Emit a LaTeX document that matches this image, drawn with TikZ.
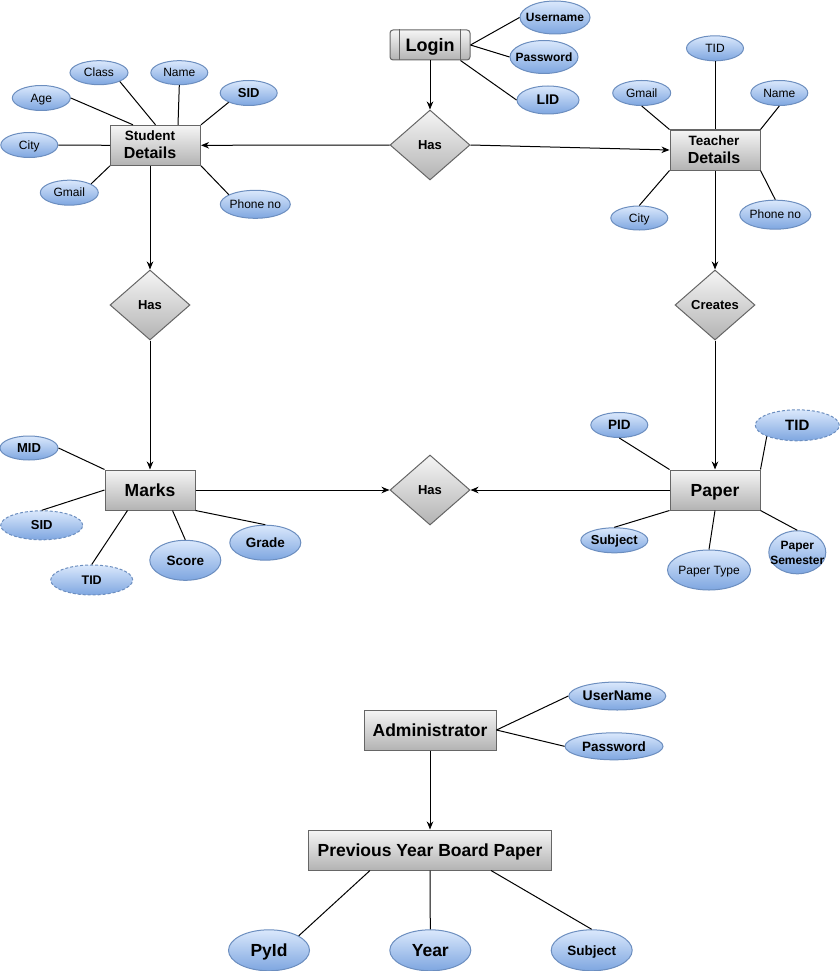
\documentclass[tikz,border=0pt]{standalone}
\usepackage{fontspec}
\setmainfont{Liberation Sans}
\usetikzlibrary{shapes.geometric,arrows.meta,shadings}

\definecolor{entline}{HTML}{666666}
\definecolor{enttop}{HTML}{F5F5F5}
\definecolor{entbot}{HTML}{B3B3B3}
\definecolor{attline}{HTML}{6C8EBF}
\definecolor{atttop}{HTML}{DAE8FC}
\definecolor{attbot}{HTML}{7EA6E0}

% zero-width label with a fixed line box, so the ellipse keeps its given size
\newcommand\zw[1]{\makebox[0pt]{\rule[-0.1em]{0pt}{0.9em}\smash{#1}}}

\begin{document}
\begin{tikzpicture}[x=1pt,y=-1pt,
  every node/.style={inner sep=0pt},
  txt/.style={font=\fontsize{#1}{#1}\selectfont},
  btxt/.style={font=\bfseries\fontsize{#1}{#1}\selectfont},
  ent/.style={rectangle, draw=entline, line width=1pt, top color=enttop, bottom color=entbot,
              minimum width=90pt, minimum height=40pt},
  rel/.style={diamond, draw=entline, line width=1pt, top color=enttop, bottom color=entbot,
              minimum width=80pt, minimum height=70pt, btxt=13},
  att/.style={ellipse, draw=attline, line width=1pt, top color=atttop, bottom color=attbot},
  attr/.style 2 args={att, minimum width=#1pt, minimum height=#2pt},
  weak/.style={dash pattern=on 3pt off 2pt},
  link/.style={draw=black, line width=1pt},
  arr/.style={link, -{Stealth[length=8pt,width=6.5pt,inset=2.5pt]}}
]
\useasboundingbox (0,0) rectangle (839,971);

% ---------- Login ----------
\node[ent, rounded corners=3pt, minimum width=80pt, minimum height=30pt, btxt=18] (lg) at (430,45) {\zw{Login}};
\draw[entline, line width=1pt] ([xshift=10pt]lg.north west) -- ([xshift=10pt]lg.south west);
\draw[entline, line width=1pt] ([xshift=-10pt]lg.north east) -- ([xshift=-10pt]lg.south east);
\node[attr={70}{33}, btxt=12] (lun) at (555,17.5) {\zw{Username}};
\node[attr={68}{33}, btxt=12] (lpw) at (544,57) {\zw{Password}};
\node[attr={62}{28}, btxt=14] (lid) at (548,100) {\zw{LID}};
\node[rel] (ht) at (430,145) {\zw{Has}};

% ---------- Student Details ----------
\node[ent] (sd) at (155.5,145.3) {};
\node[btxt=13.5, anchor=base] (sdta) at (150,140.7) {Student};
\node[btxt=16, anchor=base] (sdtb) at (150,158) {Details};
\node[attr={58}{24}, txt=12] (scls) at (99,72.7) {\zw{Class}};
\node[attr={57}{24}, txt=12] (snm) at (179.3,72.7) {\zw{Name}};
\node[attr={57}{25}, btxt=13] (ssid) at (248.7,93) {\zw{SID}};
\node[attr={58}{25}, txt=12] (sage) at (41.3,98) {\zw{Age}};
\node[attr={57}{25}, txt=12] (scity) at (29.3,145) {\zw{City}};
\node[attr={58}{25}, txt=12] (sgm) at (69.3,192.7) {\zw{Gmail}};
\node[attr={70}{28}, txt=12] (sph) at (255.3,204.3) {\zw{Phone no}};
\node[rel] (hs) at (150,305) {\zw{Has}};

% ---------- Teacher Details ----------
\node[ent] (td) at (715,150) {};
\node[btxt=13.5, anchor=base] (tdta) at (714,145.7) {Teacher};
\node[btxt=16, anchor=base] (tdtb) at (714,163.3) {Details};
\node[attr={57}{25}, txt=12] (tid) at (715,48.3) {\zw{TID}};
\node[attr={58}{25}, txt=12] (tgm) at (641.7,93) {\zw{Gmail}};
\node[attr={57}{25}, txt=12] (tnm) at (779.3,93) {\zw{Name}};
\node[attr={57}{24}, txt=12] (tcity) at (639.3,218) {\zw{City}};
\node[attr={71}{29}, txt=12] (tph) at (775.3,214.7) {\zw{Phone no}};
\node[rel] (cr) at (715,305) {\zw{Creates}};

% ---------- Marks ----------
\node[ent, btxt=17.5] (mk) at (150,490) {\zw{Marks}};
\node[attr={58}{24}, btxt=13] (mid) at (29,448) {\zw{MID}};
\node[attr={82}{29}, weak, btxt=13] (msid) at (41.7,525.3) {\zw{SID}};
\node[attr={82}{30}, weak, btxt=12.5] (mtid) at (91.7,580) {\zw{TID}};
\node[attr={71}{40}, btxt=13.5] (msc) at (185.3,560.3) {\zw{Score}};
\node[attr={71}{35}, btxt=13.5] (mgr) at (265.3,542.7) {\zw{Grade}};

\node[rel] (hm) at (430,490) {\zw{Has}};

% ---------- Paper ----------
\node[ent, btxt=17.5] (pp) at (715,490) {\zw{Paper}};
\node[attr={57}{25}, btxt=13.5] (pid) at (619.3,425) {\zw{PID}};
\node[attr={84}{31}, weak, btxt=15] (ptid) at (797.3,425.3) {\zw{TID}};
\node[attr={67}{25}, btxt=13] (psub) at (614.3,540.3) {\zw{Subject}};
\node[attr={83}{40}, txt=12] (ptype) at (709,570) {\zw{Paper Type}};
\node[attr={57}{43}, font=\bfseries\fontsize{12}{15}\selectfont] (psem) at (797.3,552.3)
  {\zw{\begin{tabular}{@{}c@{}}Paper\\Semester\end{tabular}}};

% ---------- Administrator ----------
\node[ent, minimum width=132pt, btxt=17.5] (ad) at (430,730) {\zw{Administrator}};
\node[attr={97}{28}, btxt=14] (aun) at (617.3,696) {\zw{UserName}};
\node[attr={98}{27}, btxt=13.5] (apw) at (614,746.3) {\zw{Password}};

\node[ent, minimum width=243pt, btxt=17.5] (py) at (430,850) {\zw{Previous Year Board Paper}};
\node[attr={81}{41}, btxt=17.5] (bpy) at (269,950.3) {\zw{PyId}};
\node[attr={81}{41}, btxt=17.5] (byr) at (430.3,950.3) {\zw{Year}};
\node[attr={81}{41}, btxt=13.5] (bsub) at (591.7,950.3) {\zw{Subject}};

% ---------- connectors ----------
\draw[link] (lun.west) -- (lg.east);
\draw[link] (lpw.west) -- (lg.east);
\draw[link] (lid.west) -- ([xshift=-10pt]lg.south east);
\draw[arr] (lg.south) -- (ht.north);
\draw[arr] (ht.west) -- (sd.east);
\draw[arr] (ht.east) -- (td.west);

\draw[link] (scls.-23) -- (sd.north);
\draw[link] (snm.south) -- ([xshift=22.5pt]sd.north);
\draw[link] (ssid.-155) -- (sd.north east);
\draw[link] (sage.east) -- ([xshift=-22.5pt]sd.north);
\draw[link] (scity.east) -- (sd.west);
\draw[link] (sgm.22) -- (sd.south west);
\draw[link] (sph.160) -- (sd.south east);
\draw[arr] ([xshift=-5.5pt]sd.south) -- (hs.north);
\draw[arr] (hs.south) -- (mk.north);

\draw[link] (tid.south) -- (td.north);
\draw[link] (tgm.south) -- (td.north west);
\draw[link] (tnm.south) -- (td.north east);
\draw[link] (tcity.north) -- (td.south west);
\draw[link] (tph.north) -- (td.south east);
\draw[arr] (td.south) -- (cr.north);
\draw[arr] (cr.south) -- (pp.north);

\draw[link] (mid.east) -- (mk.north west);
\draw[link] (msid.north) -- (mk.west);
\draw[link] (mtid.north) -- ([xshift=-22.5pt]mk.south);
\draw[link] (msc.north) -- ([xshift=22.5pt]mk.south);
\draw[link] (mgr.north) -- (mk.south east);
\draw[arr] (mk.east) -- (hm.west);
\draw[arr] (pp.west) -- (hm.east);

\draw[link] (pid.south) -- (pp.north west);
\draw[link] (ptid.-160) -- (pp.north east);
\draw[link] (psub.north) -- (pp.south west);
\draw[link] (ptype.north) -- (pp.south);
\draw[link] (psem.north) -- (pp.south east);

\draw[link] (aun.west) -- (ad.east);
\draw[link] (apw.west) -- (ad.east);
\draw[arr] (ad.south) -- (py.north);
\draw[link] (bpy.26) -- ([xshift=-60pt]py.south);
\draw[link] (byr.north) -- (py.south);
\draw[link] (bsub.north) -- ([xshift=61pt]py.south);
\end{tikzpicture}
\end{document}
